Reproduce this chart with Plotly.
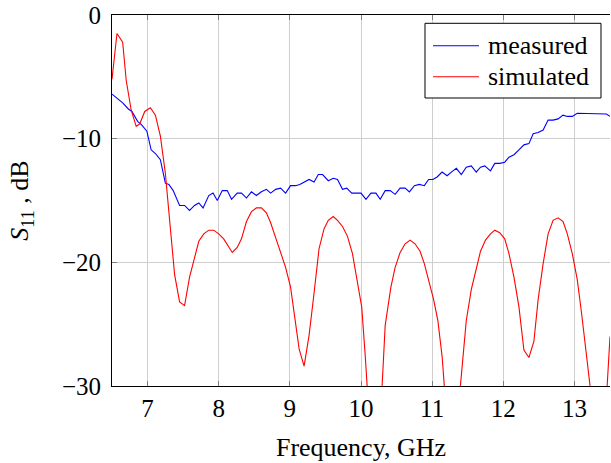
import plotly.graph_objects as go

# measured S11 (dB) vs frequency (GHz)
meas_f = [6.50, 6.56, 6.65, 6.73, 6.78, 6.86, 6.92, 6.99, 7.05, 7.11, 7.18, 7.25, 7.30, 7.36,
          7.45, 7.52, 7.59, 7.66, 7.72, 7.78, 7.86, 7.92, 7.98, 8.05, 8.12, 8.18, 8.26, 8.32,
          8.39, 8.46, 8.53, 8.60, 8.67, 8.73, 8.80, 8.87, 8.94, 9.01, 9.08, 9.14, 9.21, 9.27,
          9.34, 9.40, 9.46, 9.54, 9.61, 9.67, 9.74, 9.80, 9.87, 9.94, 10.00, 10.07, 10.14,
          10.21, 10.27, 10.34, 10.41, 10.48, 10.55, 10.62, 10.68, 10.75, 10.82, 10.89, 10.95,
          11.01, 11.07, 11.14, 11.21, 11.27, 11.34, 11.41, 11.48, 11.55, 11.62, 11.68, 11.74,
          11.82, 11.88, 11.95, 12.02, 12.08, 12.15, 12.22, 12.29, 12.36, 12.42, 12.49, 12.56,
          12.63, 12.70, 12.77, 12.84, 12.90, 12.97, 13.04, 13.10, 13.17, 13.24, 13.31, 13.38,
          13.45, 13.50]
meas_s11 = [-6.4, -6.7, -7.1, -7.6, -7.8, -8.6, -8.9, -9.4, -10.9, -11.2, -11.7, -13.6, -13.7,
            -14.2, -15.4, -15.4, -15.8, -15.4, -15.2, -15.6, -14.6, -14.4, -15.0, -14.2, -14.2,
            -14.9, -14.4, -14.4, -14.8, -14.3, -14.6, -14.3, -14.1, -14.4, -14.1, -14.0, -14.4,
            -13.8, -13.8, -13.7, -13.5, -13.3, -13.5, -12.9, -12.9, -13.4, -13.2, -13.3, -14.1,
            -14.0, -14.4, -14.4, -14.4, -14.9, -14.4, -14.4, -14.9, -14.2, -14.2, -14.5, -14.0,
            -14.0, -14.3, -13.8, -13.7, -13.8, -13.3, -13.3, -13.1, -12.7, -13.0, -12.7, -12.4,
            -12.9, -12.3, -12.2, -12.7, -12.3, -12.2, -12.6, -12.0, -12.0, -11.9, -11.5, -11.3,
            -10.9, -10.5, -10.4, -9.6, -9.5, -9.3, -8.5, -8.5, -8.4, -8.1, -8.2, -8.2, -7.95,
            -7.95, -8.0, -7.95, -8.0, -7.95, -8.0, -8.2]

# simulated S11 (dB) vs frequency (GHz)
sim_f = [6.50, 6.57, 6.65, 6.70, 6.77, 6.84, 6.89, 6.96, 7.04, 7.11, 7.18, 7.25, 7.31, 7.38,
         7.45, 7.52, 7.59, 7.66, 7.72, 7.79, 7.86, 7.93, 8.00, 8.07, 8.13, 8.19, 8.26, 8.32,
         8.39, 8.46, 8.53, 8.60, 8.67, 8.73, 8.80, 8.87, 8.94, 9.01, 9.07, 9.13, 9.20, 9.27,
         9.34, 9.41, 9.48, 9.54, 9.61, 9.67, 9.74, 9.81, 9.88, 9.94, 10.01, 10.06, 10.13,
         10.20, 10.27, 10.34, 10.42, 10.48, 10.55, 10.62, 10.69, 10.76, 10.83, 10.89, 10.95,
         11.02, 11.08, 11.14, 11.21, 11.28, 11.35, 11.44, 11.48, 11.55, 11.62, 11.68, 11.75,
         11.82, 11.88, 11.95, 12.02, 12.08, 12.15, 12.22, 12.29, 12.36, 12.43, 12.49, 12.56,
         12.63, 12.70, 12.77, 12.84, 12.90, 12.97, 13.04, 13.10, 13.17, 13.24, 13.31, 13.38,
         13.45, 13.50]
sim_s11 = [-5.2, -1.5, -2.2, -5.3, -7.7, -9.0, -8.8, -7.8, -7.5, -8.1, -9.8, -12.8, -16.6,
           -21.0, -23.2, -23.5, -21.2, -19.5, -18.3, -17.7, -17.4, -17.4, -17.7, -18.1, -18.7,
           -19.2, -18.8, -18.1, -16.7, -15.9, -15.6, -15.6, -16.0, -16.8, -18.0, -19.3, -20.4,
           -22.0, -24.7, -27.0, -28.4, -25.9, -22.5, -18.9, -17.3, -16.6, -16.3, -16.6, -17.1,
           -17.9, -19.3, -21.2, -23.6, -27.6, -34.0, -37.0, -33.0, -25.1, -22.0, -20.4, -19.2,
           -18.5, -18.2, -18.5, -19.1, -20.1, -21.4, -23.0, -24.7, -27.6, -33.0, -37.0, -33.0,
           -27.1, -24.7, -22.2, -20.4, -19.1, -18.2, -17.7, -17.4, -17.6, -18.1, -19.3, -21.2,
           -23.6, -27.1, -27.7, -26.4, -23.0, -20.1, -17.7, -16.6, -16.4, -16.7, -17.7, -19.3,
           -21.4, -24.1, -27.4, -31.0, -36.0, -36.0, -31.0, -26.0]

x_ticks = [7, 8, 9, 10, 11, 12, 13]
y_ticks = [-30, -20, -10, 0]

series_names = ["measured", "simulated"]
series_colors = ["#0000ff", "#ff0000"]

FONT = "Liberation Serif"

fig = go.Figure()
fig.add_trace(go.Scatter(x=meas_f, y=meas_s11, mode="lines", name=series_names[0],
                         line=dict(color=series_colors[0], width=1.1)))
fig.add_trace(go.Scatter(x=sim_f, y=sim_s11, mode="lines", name=series_names[1],
                         line=dict(color=series_colors[1], width=1.1)))

axis_common = dict(
    showgrid=True, gridcolor="#cfcfcf", gridwidth=1,
    showline=True, linecolor="#000000", linewidth=1,
    ticks="inside", ticklen=5, tickcolor="#808080", tickwidth=1,
    zeroline=False,
    tickfont=dict(family=FONT, size=25, color="#000000"),
)

# hand-drawn legend box (paper coordinates of the plot area)
leg_x0, leg_x1, leg_y0, leg_y1 = 0.6285, 0.9819, 0.7763, 0.9776
line_x0, line_x1 = 0.6446, 0.7369
row_y = [0.9173, 0.8337]
text_x = 0.751

shapes = [dict(type="rect", xref="paper", yref="paper", x0=leg_x0, x1=leg_x1, y0=leg_y0, y1=leg_y1,
               line=dict(color="#000000", width=1), fillcolor="white", layer="above")]
annotations = []
for name, color, yy in zip(series_names, series_colors, row_y):
    shapes.append(dict(type="line", xref="paper", yref="paper", x0=line_x0, x1=line_x1, y0=yy, y1=yy,
                       line=dict(color=color, width=1.1), layer="above"))
    annotations.append(dict(text=name, xref="paper", yref="paper", x=text_x, y=yy,
                            xanchor="left", yanchor="middle", showarrow=False,
                            font=dict(family=FONT, size=26, color="#000000")))

fig.update_layout(
    width=611, height=463,
    margin=dict(l=112, r=1, t=15, b=77),
    paper_bgcolor="white", plot_bgcolor="white",
    font=dict(family=FONT, size=25, color="#000000"),
    showlegend=False,
    shapes=shapes,
    annotations=annotations,
    xaxis=dict(
        range=[6.5, 13.5], tickvals=x_ticks, mirror="ticks",
        title=dict(text="Frequency, GHz", font=dict(family=FONT, size=26), standoff=16),
        **axis_common,
    ),
    yaxis=dict(
        range=[-30, 0], tickvals=y_ticks, ticklabelstandoff=5,
        title=dict(text="<i>S</i><sub>11</sub> , dB", font=dict(family=FONT, size=26), standoff=25),
        **axis_common,
    ),
)

fig.write_html("out.html", config={"displayModeBar": False},
               post_script="document.body.style.margin='0px';")
